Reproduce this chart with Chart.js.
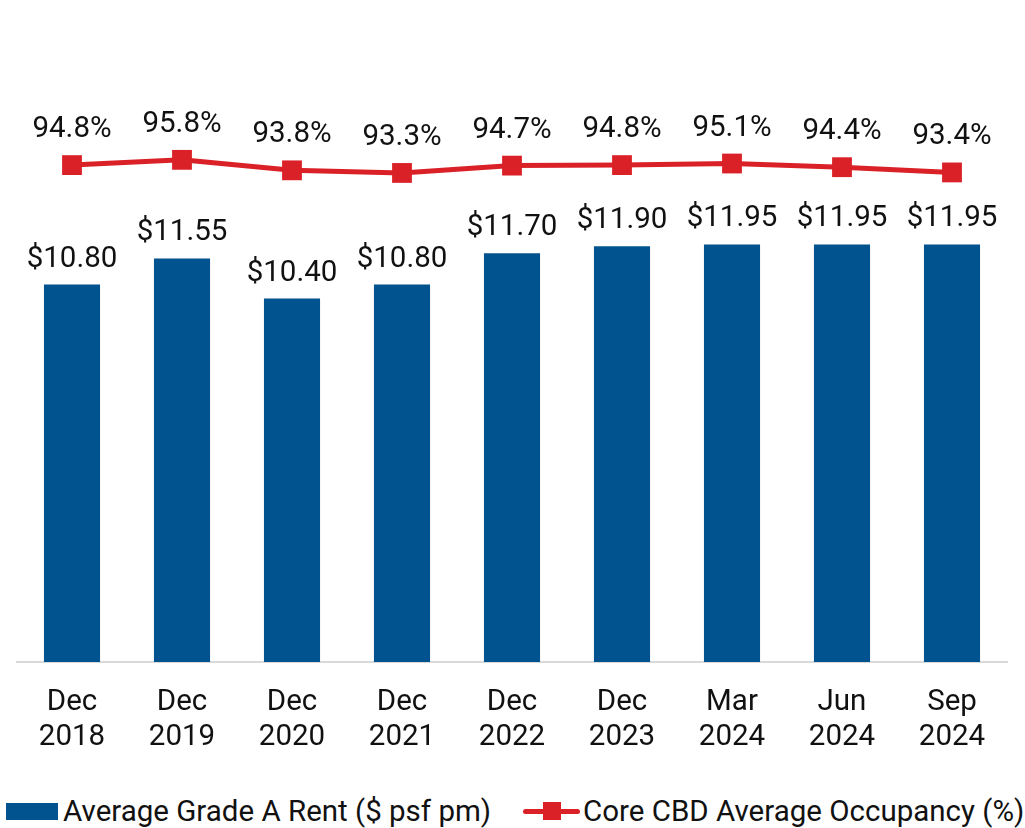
<!DOCTYPE html>
<html>
<head>
<meta charset="utf-8">
<script src="https://cdn.jsdelivr.net/npm/chart.js@4.4.0/dist/chart.umd.min.js"></script>
<style>
  html, body { margin: 0; padding: 0; background: #fff; }
  body { width: 1025px; height: 828px; position: relative; font-family: Roboto, "Noto Sans", sans-serif; }
  #wrap { position: absolute; left: 0; top: 0; width: 1025px; height: 770px; }
  .legend { position: absolute; top: 791px; left: 0; width: 1025px; height: 40px; font-size: 29.5px; color: #111; }
  .item { position: absolute; top: 0; height: 40px; display: flex; align-items: center; white-space: nowrap; }
  .box { width: 52px; height: 17px; background: #00538f; margin-right: 5px; }
  .lineKey { position: relative; width: 57px; height: 20px; margin-right: 3px; }
  .lineKey .ln { position: absolute; left: 0; right: 0; top: 8px; height: 5px; background: #da2128; border-radius: 3px; }
  .lineKey .sq { position: absolute; left: 20px; top: 1px; width: 18px; height: 18px; background: #da2128; }
</style>
</head>
<body>
<div id="wrap"><canvas id="grafico"></canvas></div>
<div class="legend">
  <div class="item" style="left:6px"><div class="box"></div>Average Grade A Rent ($ psf pm)</div>
  <div class="item" style="left:523px"><div class="lineKey"><div class="ln"></div><div class="sq"></div></div>Core CBD Average Occupancy (%)</div>
</div>
<script>
// dados do grafico
const periodos = [["Dec","2018"],["Dec","2019"],["Dec","2020"],["Dec","2021"],["Dec","2022"],["Dec","2023"],["Mar","2024"],["Jun","2024"],["Sep","2024"]];
const aluguel = [10.80, 11.55, 10.40, 10.80, 11.70, 11.90, 11.95, 11.95, 11.95];
const ocupacao = [94.8, 95.8, 93.8, 93.3, 94.7, 94.8, 95.1, 94.4, 93.4];

const corBarra = '#00538f';
const corLinha = '#da2128';

// plugin para escrever os valores em cima das barras e pontos
const rotulos = {
  id: 'rotulos',
  afterDatasetsDraw(chart) {
    const ctx = chart.ctx;
    ctx.save();
    ctx.font = '29.5px Roboto';
    ctx.fillStyle = '#111';
    ctx.textAlign = 'center';
    ctx.textBaseline = 'alphabetic';
    chart.getDatasetMeta(1).data.forEach((bar, i) => {
      ctx.fillText('$' + aluguel[i].toFixed(2), bar.x, bar.y - 18);
    });
    chart.getDatasetMeta(0).data.forEach((pt, i) => {
      ctx.fillText(ocupacao[i].toFixed(1) + '%', pt.x, pt.y - 28);
    });
    ctx.restore();
  }
};

const ctx = document.getElementById('grafico').getContext('2d');
const grafico = new Chart(ctx, {
  type: 'bar',
  data: {
    labels: periodos,
    datasets: [{
      type: 'line',
      label: 'Core CBD Average Occupancy (%)',
      data: ocupacao,
      yAxisID: 'y2',
      borderColor: corLinha,
      backgroundColor: corLinha,
      borderWidth: 5,
      pointStyle: 'rect',
      pointRadius: 14,
      pointBorderWidth: 0,
      tension: 0,
      order: 0
    }, {
      label: 'Average Grade A Rent ($ psf pm)',
      data: aluguel,
      yAxisID: 'y',
      backgroundColor: corBarra,
      barPercentage: 0.51,
      categoryPercentage: 1,
      order: 1
    }]
  },
  options: {
    responsive: true,
    maintainAspectRatio: false,
    animation: false,
    layout: { padding: { left: 17, right: 18, top: 33, bottom: 0 } },
    plugins: {
      legend: { display: false },
      tooltip: { enabled: false }
    },
    scales: {
      x: {
        grid: { display: false, drawTicks: false },
        border: { display: true, color: '#d9d9d9', width: 2 },
        ticks: {
          padding: 23,
          color: '#111',
          font: { family: 'Roboto', size: 29.5, lineHeight: 1.19 },
          maxRotation: 0
        },
        afterFit(scale) { scale.height = 108; }
      },
      y: { display: false, min: 0, max: 18 },
      y2: { display: false, min: 0, max: 120 }
    }
  },
  plugins: [rotulos]
});
</script>
</body>
</html>
